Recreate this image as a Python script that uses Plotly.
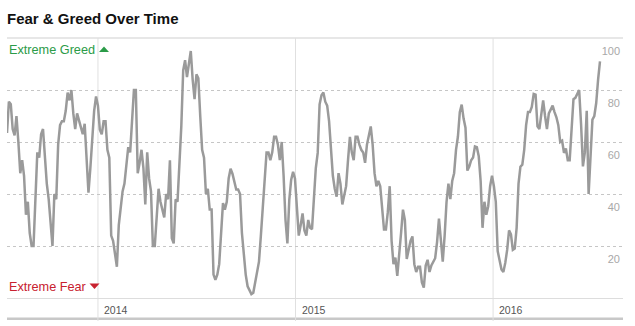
import plotly.graph_objects as go
import pandas as pd

# ---- data: Fear & Greed index, one reading every half week ----
start_date = "2013-07-17"
step = "84h"
fg_values = [
    63.5, 75.5, 74.5, 65, 62.5, 70, 60, 48, 53, 47,
    32, 37, 25, 20, 20, 41, 56, 54, 63, 65,
    54, 44, 38, 27, 20, 40, 38, 59, 66.5, 68,
    68, 72, 79, 76, 80, 71, 65, 71, 68, 66,
    63, 67, 55, 40.5, 50, 63, 72, 77.5, 74, 64.7,
    63, 68, 68, 57, 54, 24, 22, 17, 12, 28,
    36, 41, 44, 50, 58, 56, 68, 80, 80, 48,
    52, 57, 50, 36, 56, 46, 41, 20, 20, 30,
    42, 37, 34, 31, 40, 38, 53, 23, 21, 38,
    37, 52, 66, 87.5, 91.5, 85, 91, 95, 84, 76.5,
    86, 84.5, 70, 57, 54, 40, 42, 34, 34, 9,
    7, 9, 13, 26, 36.5, 34, 37, 46, 49.7, 47.8,
    44, 41.7, 41.7, 40, 25, 15.5, 9, 4.5, 3, 1.5,
    2, 6.5, 10, 14, 24, 36, 44, 56, 56, 53,
    56, 62, 62, 59, 53, 60, 47, 30, 21, 37.8,
    45.5, 48.5, 46, 35, 24, 28, 32.5, 26, 24, 30,
    27, 26.5, 40, 50, 55.8, 74.5, 78, 79, 75.5, 74,
    68, 58.5, 47, 42, 39, 48, 44, 36, 40, 43,
    53, 62, 56, 53, 62, 62, 59, 57, 56, 52,
    59, 62, 66, 59, 48, 43, 45, 43, 34, 26.3,
    26.3, 33, 43, 22, 13, 15.5, 8.5, 15.5, 25, 34,
    30, 15, 18, 22, 23.7, 13, 10, 12, 12, 6,
    4, 12.5, 14.7, 10, 12.5, 14, 15.3, 21.5, 30.5, 22.4,
    14, 24, 37, 44, 38, 45, 48, 57, 62, 71.5,
    74.4, 69, 65.5, 49, 50.6, 53, 54, 58.3, 58, 54.5,
    45, 27, 37, 32, 35.3, 43, 47, 43, 37, 18,
    15, 11, 10, 13.5, 18.5, 26, 24.5, 18.5, 19, 27,
    44, 50.5, 51.3, 57, 66.5, 71.5, 71.5, 73.5, 78.5, 78.2,
    66, 65, 70.5, 76, 70, 65, 71, 72.4, 74, 71.5,
    69.5, 66.5, 60, 60.5, 55.8, 57.5, 53, 53, 67, 76.5,
    77, 78.8, 80, 67, 50.6, 56, 72, 40, 52, 68.6,
    70, 75, 84, 91,
]
dates = pd.date_range(start_date, periods=len(fg_values), freq=step)

x_range = ["2013-07-17", "2016-08-28"]
year_ticks = ["2014-01-01", "2015-01-01", "2016-01-01"]
year_labels = ["2014", "2015", "2016"]
y_ticks = [20, 40, 60, 80, 100]
y_labels = ["20", "40", "60", "80", "100"]

W, H = 635, 326
ML, MR, MT, MB = 7, 12, 38, 28
plot_w = W - ML - MR
plot_h = H - MT - MB

def py(pix):
    """pixel row -> paper y"""
    return (H - MB - pix) / plot_h

def px(pix):
    """pixel column -> paper x"""
    return (pix - ML) / plot_w

FONT = "Liberation Sans, Arial, sans-serif"
GREEN = "#2b9b48"
RED = "#c8212f"

fig = go.Figure()
fig.add_trace(go.Scatter(
    x=dates, y=fg_values, mode="lines",
    line=dict(color="#9a9a9a", width=2.5),
    hoverinfo="skip", showlegend=False,
))

shapes = []
# top border
shapes.append(dict(type="line", xref="paper", yref="paper", x0=0, x1=1, y0=1, y1=1,
                   line=dict(color="#cfcfcf", width=1), layer="below"))
# bottom thick rule
shapes.append(dict(type="line", xref="paper", yref="paper", x0=0, x1=1,
                   y0=py(318.7), y1=py(318.7),
                   line=dict(color="#c8c8c8", width=2.5), layer="below"))
# year separators
for t in year_ticks:
    shapes.append(dict(type="line", xref="x", yref="paper", x0=t, x1=t,
                       y0=py(321), y1=1,
                       line=dict(color="#e0e0e0", width=1), layer="below"))
# legend triangles
shapes.append(dict(type="path", xref="paper", yref="paper",
                   path=f"M{px(99)},{py(52)} L{px(109)},{py(52)} L{px(104)},{py(46.5)} Z",
                   fillcolor=GREEN, line=dict(width=0)))
shapes.append(dict(type="path", xref="paper", yref="paper",
                   path=f"M{px(89.5)},{py(283.5)} L{px(99.5)},{py(283.5)} L{px(94.5)},{py(289)} Z",
                   fillcolor=RED, line=dict(width=0)))

annotations = []
for t, lab in zip(year_ticks, year_labels):
    annotations.append(dict(x=t, y=py(309.7), xref="x", yref="paper", text=lab,
                            showarrow=False, xanchor="left", yanchor="middle",
                            xshift=4, font=dict(family=FONT, size=10.5, color="#555555")))
annotations.append(dict(x=0, y=py(50), xref="paper", yref="paper",
                        text="Extreme Greed",
                        showarrow=False, xanchor="left", yanchor="middle",
                        font=dict(family=FONT, size=12.7, color=GREEN)))
annotations.append(dict(x=0, y=py(286.7), xref="paper", yref="paper",
                        text="Extreme Fear",
                        showarrow=False, xanchor="left", yanchor="middle",
                        font=dict(family=FONT, size=12.7, color=RED)))

fig.update_layout(
    width=W, height=H,
    margin=dict(l=ML, r=MR, t=MT, b=MB, pad=0),
    paper_bgcolor="white", plot_bgcolor="white",
    title=dict(text="<b>Fear & Greed Over Time</b>", x=7 / W, y=1 - 18.5 / H,
               xref="container", yref="container", xanchor="left", yanchor="middle",
               font=dict(family=FONT, size=15, color="#111111")),
    xaxis=dict(range=x_range, showgrid=False, showticklabels=False, ticks="",
               showline=True, linecolor="#dddddd", linewidth=1, zeroline=False,
               fixedrange=True),
    yaxis=dict(range=[0, 100], side="right", tickvals=y_ticks, ticktext=y_labels,
               ticklabelposition="inside", ticklabelshift=13, ticks="",
               showgrid=True, gridcolor="#c6c6c6", griddash="dot", gridwidth=1,
               zeroline=False, showline=False,
               tickfont=dict(family=FONT, size=11, color="#a8a8a8"), fixedrange=True),
    shapes=shapes, annotations=annotations,
    showlegend=False,
)

fig.write_html("out.html", config={"displayModeBar": False})
